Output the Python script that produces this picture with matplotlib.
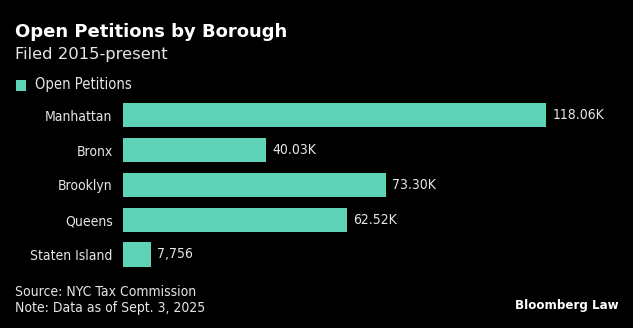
import matplotlib
matplotlib.use("Agg")
import matplotlib.pyplot as plt

categories = ["Manhattan", "Bronx", "Brooklyn", "Queens", "Staten Island"]
values = [118060, 40030, 73300, 62520, 7756]
value_labels = ["118.06K", "40.03K", "73.30K", "62.52K", "7,756"]

BG = "#000000"
BAR = "#5ED3B7"
TXT = "#E6E6E6"
CF = dict(family="DejaVu Sans", fontstretch="condensed")

fig = plt.figure(figsize=(6.33, 3.28), dpi=100, facecolor=BG)
ax = fig.add_axes([123/633, 1-271.9/328, 465.8/633, 174/328], facecolor=BG)

y = list(range(len(categories)))
ax.barh(y, values, height=0.69, color=BAR, edgecolor="none")
ax.set_ylim(4.5, -0.5)
ax.set_xlim(0, 130000)
ax.set_yticks(y)
ax.set_yticklabels(categories, fontsize=10, color=TXT, **CF)
ax.tick_params(axis="y", length=0, pad=7.5)
ax.set_xticks([])
for s in ax.spines.values():
    s.set_visible(False)

for yi, v, lab in zip(y, values, value_labels):
    ax.annotate(lab, (v, yi), xytext=(4.5, 0), textcoords="offset points",
                va="center", ha="left", fontsize=10, color=TXT, **CF)

fig.text(15/633, 1-32/328, "Open Petitions by Borough", family="DejaVu Sans",
         fontweight="bold", fontsize=13, color="white", va="center", ha="left")
fig.text(15/633, 1-54/328, "Filed 2015-present", family="DejaVu Sans",
         fontsize=11.8, color=TXT, va="center", ha="left")

fig.patches.append(plt.Rectangle((16/633, 1-90.5/328), 10/633, 10/328, transform=fig.transFigure,
                                 facecolor=BAR, edgecolor="none"))
fig.text(35/633, 1-85/328, "Open Petitions", fontsize=10.5, color=TXT,
         va="center", ha="left", **CF)

fig.text(15/633, 1-292/328, "Source: NYC Tax Commission", fontsize=10,
         color=TXT, va="center", ha="left", **CF)
fig.text(15/633, 1-308/328, "Note: Data as of Sept. 3, 2025", fontsize=10,
         color=TXT, va="center", ha="left", **CF)
fig.text(619/633, 1-306/328, "Bloomberg Law", family="DejaVu Sans", fontweight="bold",
         fontsize=8.6, color="white", va="center", ha="right")

fig.savefig("out.png", dpi=100, facecolor=BG)
